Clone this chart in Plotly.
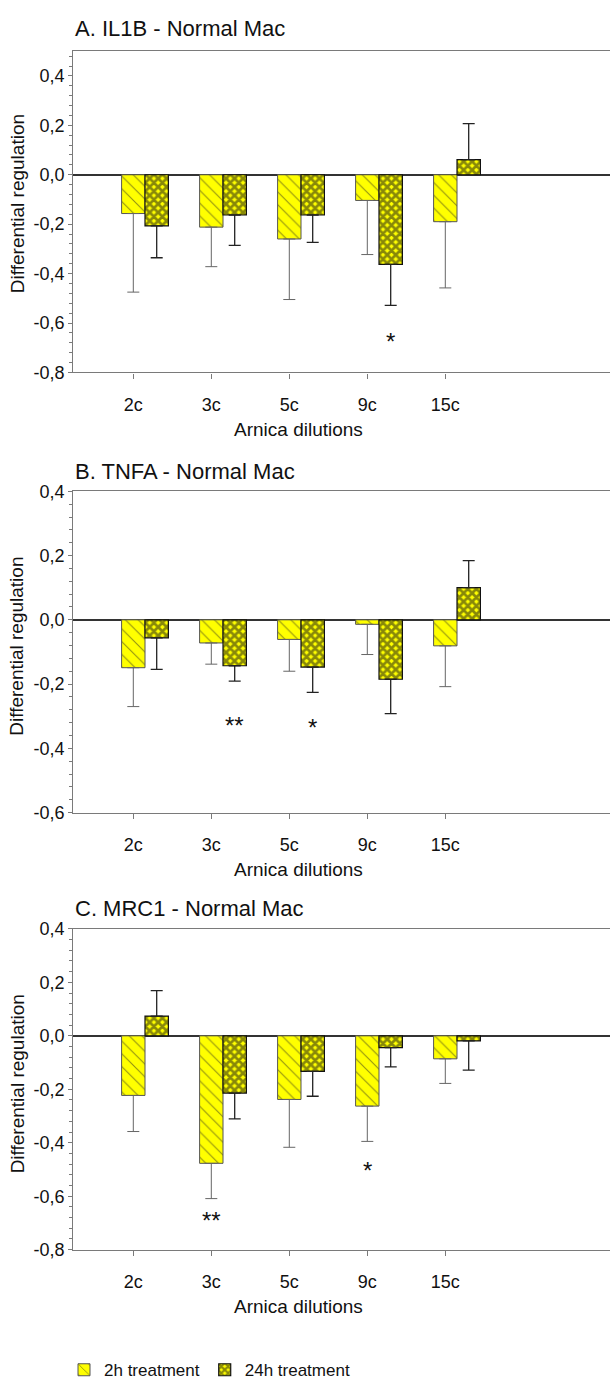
import plotly.graph_objects as go

W, H = 610, 1394

categories = ["2c", "3c", "5c", "9c", "15c"]
series_names = ["2h treatment", "24h treatment"]

il1b_2h = [-0.157, -0.212, -0.260, -0.104, -0.190]
il1b_2h_err = [0.318, 0.160, 0.245, 0.219, 0.268]
il1b_24h = [-0.207, -0.163, -0.163, -0.363, 0.061]
il1b_24h_err = [0.129, 0.123, 0.111, 0.166, 0.146]

tnfa_2h = [-0.149, -0.072, -0.061, -0.014, -0.081]
tnfa_2h_err = [0.121, 0.066, 0.099, 0.094, 0.127]
tnfa_24h = [-0.056, -0.143, -0.147, -0.185, 0.100]
tnfa_24h_err = [0.098, 0.048, 0.079, 0.107, 0.084]

mrc1_2h = [-0.223, -0.477, -0.238, -0.263, -0.086]
mrc1_2h_err = [0.135, 0.132, 0.179, 0.132, 0.092]
mrc1_24h = [0.074, -0.214, -0.133, -0.044, -0.019]
mrc1_24h_err = [0.095, 0.097, 0.093, 0.072, 0.109]

panel_titles = ["A. IL1B - Normal Mac", "B. TNFA - Normal Mac", "C. MRC1 - Normal Mac"]
y_ranges = [[-0.8, 0.5], [-0.6, 0.4], [-0.8, 0.4]]
y_tickvals = [
    [0.4, 0.2, 0.0, -0.2, -0.4, -0.6, -0.8],
    [0.4, 0.2, 0.0, -0.2, -0.4, -0.6],
    [0.4, 0.2, 0.0, -0.2, -0.4, -0.6, -0.8],
]
y_ticktext = [
    ["0,4", "0,2", "0,0", "-0,2", "-0,4", "-0,6", "-0,8"],
    ["0,4", "0,2", "0,0", "-0,2", "-0,4", "-0,6"],
    ["0,4", "0,2", "0,0", "-0,2", "-0,4", "-0,6", "-0,8"],
]
y_title = "Differential regulation"
x_title = "Arnica dilutions"

# significance stars: (category, series index, text, y value)
stars = [
    [("9c", 1, "*", -0.656)],
    [("3c", 1, "**", -0.314), ("5c", 1, "*", -0.321)],
    [("3c", 0, "**", -0.674), ("9c", 0, "*", -0.486)],
]

panels = [
    (il1b_2h, il1b_2h_err, il1b_24h, il1b_24h_err),
    (tnfa_2h, tnfa_2h_err, tnfa_24h, tnfa_24h_err),
    (mrc1_2h, mrc1_2h_err, mrc1_24h, mrc1_24h_err),
]

# layout geometry in pixels
plot_left = 73.3
panel_top = [41.8, 488.3, 932.3]
panel_bottom = [367.7, 814.3, 1257.7]
title_y = [19, 468, 912]
ytitle_y = [197, 646, 1090]
xtitle_y = [426, 872, 1315]
cat_px0, cat_dx = 133.3, 78.0

FONT = "Liberation Sans, Arial, sans-serif"
YELLOW = "#FFFF00"
AXIS = "#7a7a7a"
BW = 0.3

def py(p):
    return 1 - p / H

fig = go.Figure()

def one_sided(vals, errs):
    plus = [e if v >= 0 else 0 for v, e in zip(vals, errs)]
    minus = [e if v < 0 else 0 for v, e in zip(vals, errs)]
    return plus, minus

for i, (v2, e2, v24, e24) in enumerate(panels):
    ax = "" if i == 0 else str(i + 1)
    p, m = one_sided(v2, e2)
    fig.add_trace(go.Bar(
        x=categories, y=v2, name=series_names[0], xaxis="x" + ax, yaxis="y" + ax,
        offset=-BW / 2, width=BW, showlegend=(i == 0), legendgroup="2h",
        marker=dict(color=YELLOW, line=dict(color="#555555", width=1),
                    pattern=dict(shape="\\", fgcolor="#222222", bgcolor=YELLOW,
                                 size=9, solidity=0.12, fillmode="overlay")),
        error_y=dict(type="data", symmetric=False, array=p, arrayminus=m,
                     color="#666666", thickness=1, width=6),
    ))
    p, m = one_sided(v24, e24)
    fig.add_trace(go.Bar(
        x=categories, y=v24, name=series_names[1], xaxis="x" + ax, yaxis="y" + ax,
        offset=BW / 2, width=BW, showlegend=(i == 0), legendgroup="24h",
        marker=dict(color=YELLOW, line=dict(color="#111111", width=1.2),
                    pattern=dict(shape="x", fgcolor="#111111", bgcolor=YELLOW,
                                 size=6, solidity=0.7, fillmode="overlay")),
        error_y=dict(type="data", symmetric=False, array=p, arrayminus=m,
                     color="#222222", thickness=1.3, width=6),
    ))

layout = dict(
    width=W, height=H, margin=dict(l=0, r=0, t=0, b=0),
    paper_bgcolor="white", plot_bgcolor="white",
    barmode="overlay", font=dict(family=FONT, size=18, color="#111111"),
    showlegend=True,
    legend=dict(orientation="h", x=64 / W, xanchor="left", y=py(1380), yanchor="middle",
                font=dict(size=17, color="#111111"), bgcolor="rgba(0,0,0,0)",
                itemwidth=30, traceorder="normal"),
    annotations=[],
)

xr0 = -(cat_px0 - plot_left) / cat_dx
xr1 = (W - cat_px0) / cat_dx

for i in range(3):
    ax = "" if i == 0 else str(i + 1)
    layout["xaxis" + ax] = dict(
        domain=[plot_left / W, 1], anchor="y" + ax, range=[xr0, xr1],
        type="category", categoryorder="array", categoryarray=categories,
        showline=True, linecolor=AXIS, linewidth=1.3, mirror=True,
        ticks="outside", ticklen=5, tickcolor=AXIS, tickwidth=1,
        showgrid=False, zeroline=False, ticklabelstandoff=11,
        tickfont=dict(size=18, color="#111111"),
    )
    layout["yaxis" + ax] = dict(
        domain=[py(panel_bottom[i]), py(panel_top[i])], anchor="x" + ax,
        range=y_ranges[i], tickmode="array", tickvals=y_tickvals[i], ticktext=y_ticktext[i],
        showline=True, linecolor=AXIS, linewidth=1.3,
        ticks="outside", ticklen=4, tickcolor=AXIS, tickwidth=1,
        minor=dict(dtick=0.04, tick0=0, ticks="outside", ticklen=3, tickcolor=AXIS, showgrid=False),
        showgrid=False, zeroline=True, zerolinecolor="#333333", zerolinewidth=1.5,
        tickfont=dict(size=18, color="#111111"),
    )
    layout["annotations"].append(dict(
        text=panel_titles[i], xref="paper", yref="paper", x=plot_left / W, y=py(title_y[i]),
        xanchor="left", yanchor="middle", showarrow=False, font=dict(size=22, color="#111111")))
    layout["annotations"].append(dict(
        text=y_title, xref="paper", yref="paper", x=17 / W, y=py(ytitle_y[i]), textangle=-90,
        xanchor="center", yanchor="middle", showarrow=False, font=dict(size=19, color="#111111")))
    layout["annotations"].append(dict(
        text=x_title, xref="paper", yref="paper", x=298 / W, y=py(xtitle_y[i]),
        xanchor="center", yanchor="middle", showarrow=False, font=dict(size=19, color="#111111")))
    for cat, s, txt, yv in stars[i]:
        layout["annotations"].append(dict(
            text=txt, xref="x" + ax, yref="y" + ax, x=categories.index(cat) + s * BW, y=yv,
            xanchor="center", yanchor="middle", showarrow=False, yshift=-5,
            font=dict(size=24, color="#111111")))

fig.update_layout(**layout)
fig.write_html("out.html")
